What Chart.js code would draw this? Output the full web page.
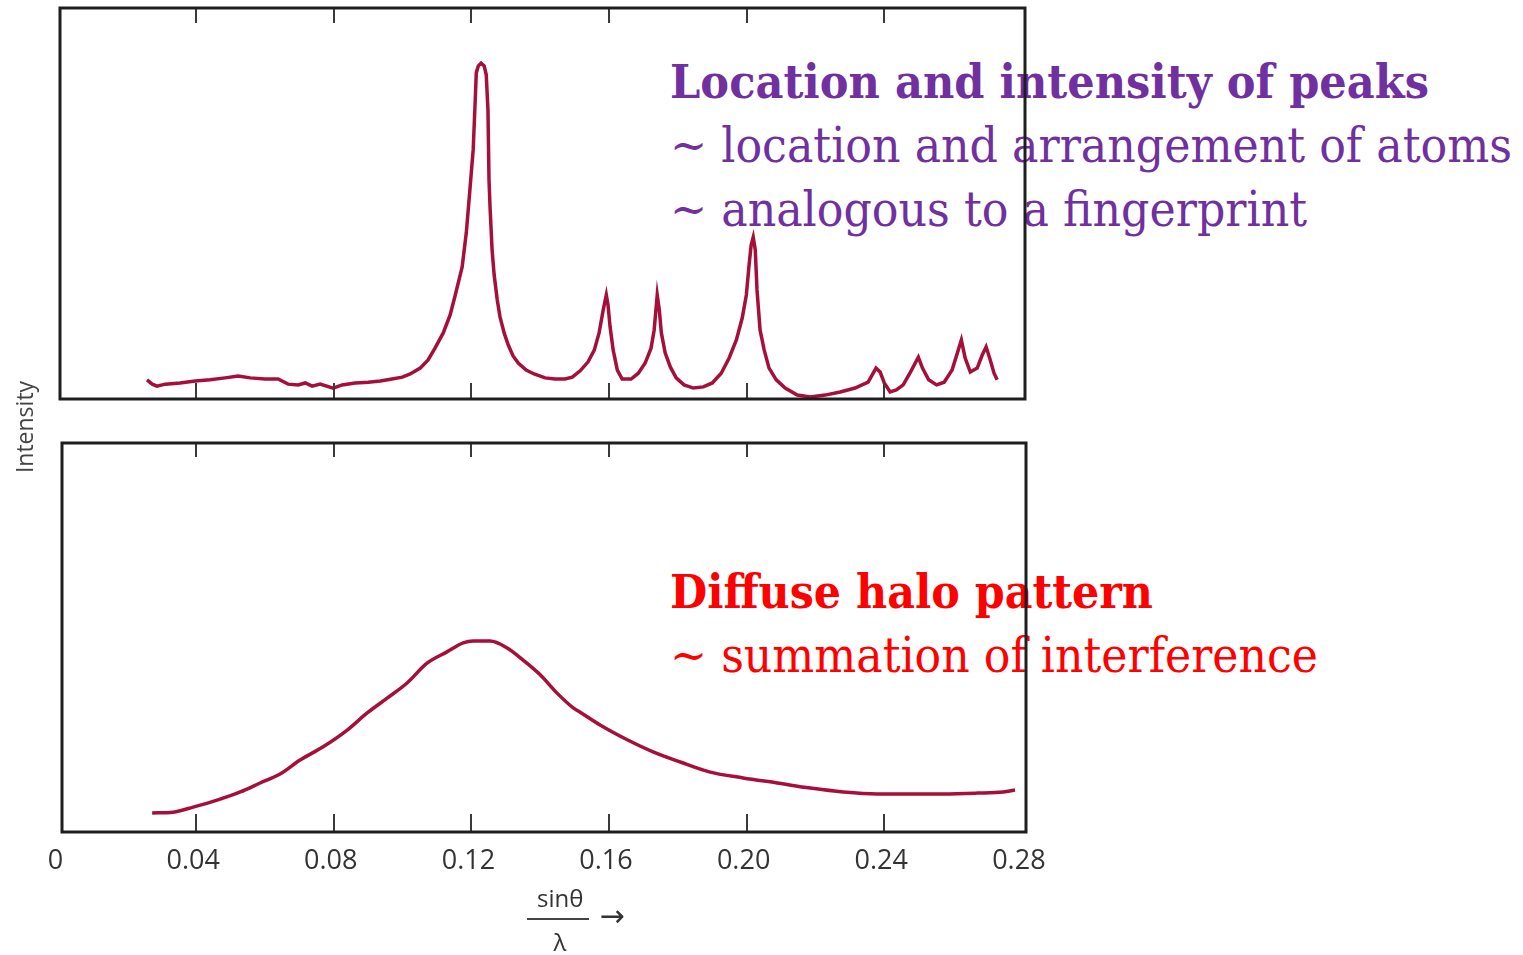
<!DOCTYPE html>
<html><head><meta charset="utf-8">
<script src="https://cdn.jsdelivr.net/npm/chart.js@4"></script>
<style>
html,body{margin:0;padding:0;background:#fff;}
#wrap{position:relative;width:1523px;height:955px;overflow:hidden;background:#fff;}
canvas{position:absolute;left:0;z-index:2;}
.ann{position:absolute;white-space:nowrap;z-index:1;transform-origin:0 0;font-family:'DejaVu Serif',serif;}
#ylab{position:absolute;z-index:3;width:200px;text-align:center;font:23px 'Open Sans',sans-serif;color:#444;line-height:30px;transform:rotate(-90deg);transform-origin:50% 50%;}
.xt{position:absolute;z-index:3;font:24px 'Open Sans',sans-serif;color:#333;text-align:center;line-height:28px;}
#xarr{font:30px 'DejaVu Sans',sans-serif;color:#333;}
#frac{position:absolute;z-index:3;height:2px;background:#444;}
</style></head><body>
<div id="wrap">
<canvas id="topC" width="1523" height="420" style="top:0"></canvas>
<canvas id="botC" width="1523" height="535" style="top:420px"></canvas>
<div id="ylab">Intensity</div>
<div class="xt" id="xnum">sinθ</div>
<div id="frac"></div>
<div class="xt" id="xden">λ</div>
<div class="xt" id="xarr">→</div>
</div>
<script>
// ---- data (sinθ/λ vs. relative intensity) ----
const xTickValues = [0, 0.04, 0.08, 0.12, 0.16, 0.20, 0.24, 0.28];
const xTickLabels = ['0', '0.04', '0.08', '0.12', '0.16', '0.20', '0.24', '0.28'];

// crystalline pattern (top)
const crystX = [0.0257,0.0272,0.0286,0.0310,0.0353,0.0397,0.0440,0.0484,0.0522,0.0557,0.0600,0.0638,0.0667,0.0696,0.0717,0.0737,0.0760,0.0798,0.0824,0.0862,0.0900,0.0935,0.0969,0.0999,0.1022,0.1051,0.1074,0.1094,0.1118,0.1138,0.1153,0.1173,0.1185,0.1193,0.1199,0.1205,0.1211,0.1214,0.1220,0.1228,0.1237,0.1243,0.1248,0.1251,0.1254,0.1260,0.1266,0.1275,0.1283,0.1295,0.1307,0.1321,0.1336,0.1359,0.1382,0.1414,0.1443,0.1472,0.1493,0.1516,0.1539,0.1557,0.1571,0.1583,0.1592,0.1597,0.1603,0.1612,0.1624,0.1638,0.1664,0.1685,0.1705,0.1722,0.1731,0.1740,0.1746,0.1752,0.1763,0.1778,0.1795,0.1818,0.1845,0.1874,0.1900,0.1926,0.1949,0.1970,0.1987,0.1999,0.2007,0.2013,0.2019,0.2025,0.2030,0.2039,0.2051,0.2065,0.2086,0.2112,0.2147,0.2185,0.2228,0.2272,0.2315,0.2353,0.2376,0.2388,0.2400,0.2417,0.2435,0.2455,0.2476,0.2499,0.2511,0.2529,0.2552,0.2574,0.2597,0.2615,0.2624,0.2635,0.2650,0.2670,0.2685,0.2696,0.2708,0.2719,0.2728];
const crystI = [4.9,3.8,3.3,3.8,4.1,4.6,4.9,5.4,5.9,5.4,5.1,5.1,3.8,3.6,4.1,3.3,3.8,2.8,3.6,4.1,4.3,4.6,5.1,5.6,6.4,7.9,10.0,13.0,16.9,21.5,26.6,33.8,42.5,50.9,57.3,63.7,76.5,83.4,85.2,85.9,85.2,82.9,73.9,56.0,49.1,38.1,31.7,25.3,21.0,16.9,13.8,11.0,9.2,7.4,6.4,5.4,5.1,5.1,5.6,7.2,9.5,12.5,16.9,22.8,26.6,24.0,18.4,12.5,7.4,5.1,5.1,6.6,9.2,13.0,17.6,26.6,22.8,16.9,11.8,8.2,5.4,3.6,2.8,3.1,4.1,6.6,10.5,15.1,20.7,26.6,34.3,39.4,41.4,38.1,27.9,17.6,12.5,7.9,4.9,2.8,1.0,0.5,1.0,1.8,2.8,4.3,7.9,6.9,4.1,1.8,2.3,3.6,6.9,10.7,7.9,4.9,3.6,4.3,7.4,12.5,15.1,10.5,6.9,7.9,11.3,13.3,10.0,6.6,4.9];

// amorphous halo (bottom)
const haloX = [0.0272,0.0333,0.0391,0.0461,0.0528,0.0586,0.0644,0.0702,0.0769,0.0839,0.0897,0.0955,0.1013,0.1071,0.1129,0.1176,0.1205,0.1254,0.1304,0.1350,0.1400,0.1449,0.1496,0.1516,0.1574,0.1653,0.1728,0.1807,0.1894,0.1990,0.2089,0.2185,0.2281,0.2379,0.2475,0.2571,0.2670,0.2746,0.2780];
const haloI = [4.9,5.1,6.4,8.2,10.3,12.6,14.9,18.5,21.9,26.2,30.6,34.4,38.3,43.4,46.3,48.6,49.1,49.1,47.3,44.2,40.4,35.7,31.9,30.8,27.5,23.7,20.6,18.0,15.4,13.9,12.6,11.3,10.3,9.8,9.8,9.8,10.0,10.3,10.8];

// ---- annotations ----
const annLines = [
  {text:'Location and intensity of peaks', weight:'bold', size:47, color:'#7030A0', x:670, base:98, right:1429},
  {text:'~ location and arrangement of atoms', weight:'normal', size:48, color:'#7030A0', x:670, base:162, right:1512},
  {text:'~ analogous to a fingerprint', weight:'normal', size:48, color:'#7030A0', x:670, base:226, right:1307},
  {text:'Diffuse halo pattern', weight:'bold', size:46, color:'#FF0000', x:670, base:608, right:1153},
  {text:'~ summation of interference', weight:'normal', size:48, color:'#FF0000', x:670, base:672, right:1318}
];

const mctx = document.createElement('canvas').getContext('2d');
const wrap = document.getElementById('wrap');
annLines.forEach(a => {
  const font = `${a.weight} ${a.size}px "DejaVu Serif"`;
  mctx.font = font;
  const m = mctx.measureText(a.text);
  const A = m.fontBoundingBoxAscent, D = m.fontBoundingBoxDescent;
  const off = (a.size - (A + D)) / 2 + A;
  const d = document.createElement('div');
  d.className = 'ann';
  d.textContent = a.text;
  d.style.font = font;
  d.style.lineHeight = a.size + 'px';
  d.style.color = a.color;
  d.style.left = a.x + 'px';
  d.style.top = (a.base - off) + 'px';
  d.style.transform = `scaleX(${(a.right - a.x) / m.width})`;
  wrap.appendChild(d);
});

// axis labels placement
function place(id, cx, cy) {
  const el = document.getElementById(id);
  el.style.left = (cx - el.offsetWidth / 2) + 'px';
  el.style.top = (cy - el.offsetHeight / 2) + 'px';
}
place('ylab', 24, 427);
place('xnum', 560, 898);
place('xden', 560, 942);
place('xarr', 612, 915);
const fr = document.getElementById('frac');
fr.style.left = '527px'; fr.style.top = '918px'; fr.style.width = '62px';

const deco = {
  id: 'deco',
  afterDraw(chart, args, opts) {
    const {ctx, chartArea: a} = chart;
    const x = chart.scales.x;
    ctx.save();
    ctx.strokeStyle = '#3a3a3a';
    ctx.lineWidth = 2;
    xTickValues.forEach(v => {
      if (v <= x.min + 0.005 || v >= x.max - 0.005) return;
      const px = Math.round(x.getPixelForValue(v));
      ctx.beginPath();
      ctx.moveTo(px, a.top); ctx.lineTo(px, a.top + opts.tickTop);
      ctx.moveTo(px, a.bottom); ctx.lineTo(px, a.bottom - opts.tickBottom);
      ctx.stroke();
    });
    ctx.lineWidth = 3;
    ctx.strokeStyle = '#1e1e1e';
    ctx.strokeRect(a.left, a.top, a.right - a.left, a.bottom - a.top);
    if (opts.labels) {
      ctx.fillStyle = '#333';
      ctx.font = '27px "Open Sans"';
      ctx.textAlign = 'center';
      ctx.textBaseline = 'middle';
      xTickValues.forEach((v, i) => ctx.fillText(xTickLabels[i], x.getPixelForValue(v) - 3, a.bottom + 29));
    }
    ctx.restore();
  }
};

function makeChart(id, xs, ys, xmin, xmax, pad, width, mode, deco_opts) {
  return new Chart(document.getElementById(id), {
    type: 'line',
    data: { datasets: [{
      data: xs.map((v, i) => ({x: v, y: ys[i]})),
      borderColor: '#A50F3A', borderWidth: width, pointRadius: 0,
      cubicInterpolationMode: mode, tension: mode === 'monotone' ? 0.4 : 0, fill: false
    }]},
    options: {
      responsive: false, animation: false, devicePixelRatio: 1,
      layout: { padding: pad },
      scales: {
        x: { type: 'linear', min: xmin, max: xmax, display: false },
        y: { min: 0, max: 100, display: false }
      },
      plugins: { legend: {display: false}, tooltip: {enabled: false}, deco: deco_opts }
    },
    plugins: [deco]
  });
}

makeChart('topC', crystX, crystI, 0.0004, 0.2809, {left: 60, right: 498, top: 8, bottom: 21}, 3.5, 'default', {tickTop: 15, tickBottom: 16, labels: false});
makeChart('botC', haloX, haloI, 0.0010, 0.2812, {left: 62, right: 497, top: 23, bottom: 123}, 3.5, 'monotone', {tickTop: 14, tickBottom: 18, labels: true});
</script>
</body></html>
